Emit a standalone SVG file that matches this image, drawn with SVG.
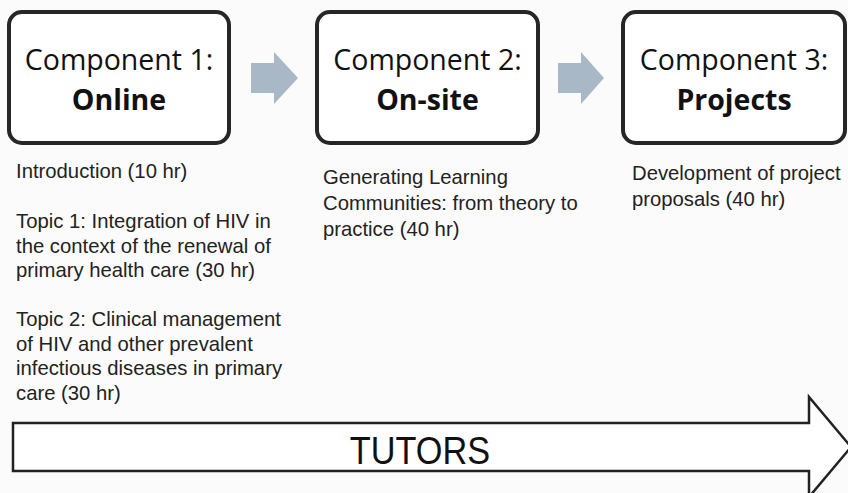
<svg xmlns="http://www.w3.org/2000/svg" width="848" height="493" viewBox="0 0 848 493">
<style>
.box{fill:#ffffff;stroke:#262626;stroke-width:4}
.title{font-family:"Open Sans","Noto Sans",sans-serif;font-size:28.5px;fill:#111;text-anchor:middle}
.bold{font-weight:bold}
.body{font-family:"Liberation Sans",Arial,sans-serif;font-size:20.3px;fill:#222}
.flow{fill:#a9b8c6}
.big{fill:#ffffff;stroke:#222;stroke-width:2.5}
.tutors{font-family:"Liberation Sans",Arial,sans-serif;font-size:35px;fill:#111;text-anchor:middle}
</style>
<rect width="848" height="493" fill="#fbfbfb"/>
<g id="component1">
<rect class="box" x="9" y="12" width="220" height="131" rx="13"/>
<text class="title" x="119" y="70">Component 1:</text>
<text class="title bold" x="119" y="110">Online</text>
</g>
<g id="component2">
<rect class="box" x="317" y="12" width="221" height="131" rx="13"/>
<text class="title" x="427.5" y="70">Component 2:</text>
<text class="title bold" x="427.5" y="110">On-site</text>
</g>
<g id="component3">
<rect class="box" x="623" y="12" width="222" height="131" rx="13"/>
<text class="title" x="734" y="70">Component 3:</text>
<text class="title bold" x="734" y="110">Projects</text>
</g>
<g id="connectors">
<polygon class="flow" points="251,63 274,63 274,52 298,78 274,104 274,93 251,93"/>
<polygon class="flow" points="558,63 581,63 581,52 604,78 581,104 581,93 558,93"/>
</g>
<g id="online-text">
<text class="body" x="16" y="178">Introduction (10 hr)</text>
<text class="body" x="16" y="228">Topic 1: Integration of HIV in</text>
<text class="body" x="16" y="252.5">the context of the renewal of</text>
<text class="body" x="16" y="277">primary health care (30 hr)</text>
<text class="body" x="16" y="326">Topic 2: Clinical management</text>
<text class="body" x="16" y="350.5">of HIV and other prevalent</text>
<text class="body" x="16" y="375">infectious diseases in primary</text>
<text class="body" x="16" y="399.5">care (30 hr)</text>
</g>
<g id="onsite-text">
<text class="body" x="323" y="184">Generating Learning</text>
<text class="body" x="323" y="210">Communities: from theory to</text>
<text class="body" x="323" y="236">practice (40 hr)</text>
</g>
<g id="projects-text">
<text class="body" x="632" y="180">Development of project</text>
<text class="body" x="632" y="206">proposals (40 hr)</text>
</g>
<g id="tutors">
<path class="big" d="M13,423 H809 V397 L851,447 L809,497 V471 H13 Z"/>
<text class="tutors" transform="translate(420,464) scale(0.98,1.1)">TUTORS</text>
</g>
</svg>
